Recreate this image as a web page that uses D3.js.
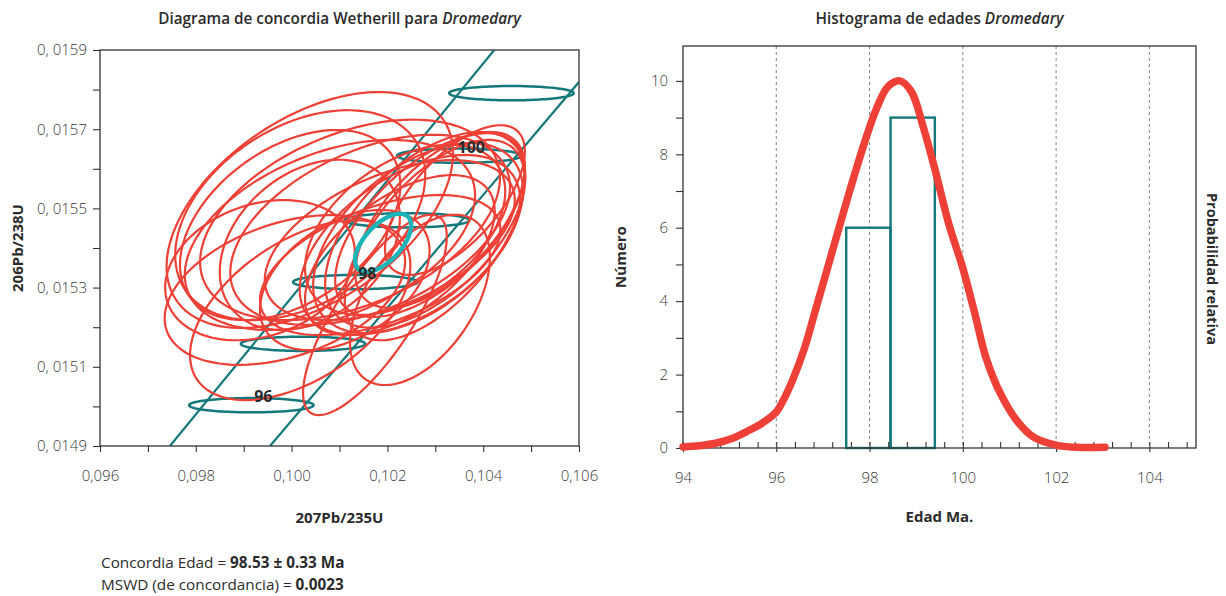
<!DOCTYPE html>
<html>
<head>
<meta charset="utf-8">
<script src="https://cdn.jsdelivr.net/npm/d3@7"></script>
<style>
  body { margin: 0; background: #fff; font-family: "Open Sans", sans-serif; }
</style>
</head>
<body>
<div id="chart"></div>
<script>
// ---- concordia (left) ----
const xMajorL = [0.096, 0.098, 0.100, 0.102, 0.104, 0.106];
const xLabelsL = ['0,096', '0,098', '0,100', '0,102', '0,104', '0,106'];
const xMinorL = [0.097, 0.099, 0.101, 0.103, 0.105];
const yMajorL = [0.0149, 0.0151, 0.0153, 0.0155, 0.0157, 0.0159];
const yLabelsL = ['0, 0149', '0, 0151', '0, 0153', '0, 0155', '0, 0157', '0, 0159'];
const yMinorL = [0.0150, 0.0152, 0.0154, 0.0156, 0.0158];

// concordia age markers (Ma) and their positions
const markerAges = [96, 97, 98, 99, 100, 101];
const markerX = [0.09916, 0.10024, 0.10133, 0.10241, 0.10350, 0.10459];
const markerY = [0.015003, 0.015158, 0.015314, 0.015470, 0.015633, 0.015791];
const markerErrX = 0.0013;
const markerErrY = 0.000018;
const labelledAges = [96, 98, 100];

// decay-constant error band of the concordia
const bandLeft = [[0.09746, 0.0149], [0.10423, 0.0159]];
const bandRight = [[0.09955, 0.0149], [0.10600, 0.015819]];

// analyses: centre, half widths and correlation
const spotX = [0.10279, 0.10264, 0.10289, 0.10247, 0.10299, 0.10237, 0.10310, 0.10226,
  0.10205, 0.10164, 0.10122, 0.10080, 0.10038, 0.10018, 0.09997, 0.10038,
  0.10018, 0.10174, 0.10268, 0.10111, 0.10185, 0.09934, 0.09986, 0.10341];
const spotY = [0.015446, 0.015425, 0.015458, 0.015408, 0.015420, 0.015446, 0.015471, 0.015382,
  0.015420, 0.015446, 0.015471, 0.015433, 0.015496, 0.015483, 0.015458, 0.015408,
  0.015243, 0.015231, 0.015269, 0.015319, 0.015357, 0.015344, 0.015294, 0.015521];
const spotErrX = [0.00209, 0.00219, 0.00198, 0.00230, 0.00188, 0.00209, 0.00177, 0.00198,
  0.00261, 0.00292, 0.00313, 0.00303, 0.00299, 0.00261, 0.00230, 0.00188,
  0.00230, 0.00150, 0.00146, 0.00177, 0.00251, 0.00198, 0.00251, 0.00146];
const spotErrY = [0.000247, 0.000240, 0.000232, 0.000227, 0.000253, 0.000215, 0.000222, 0.000202,
  0.000202, 0.000240, 0.000253, 0.000240, 0.000298, 0.000265, 0.000240, 0.000215,
  0.000227, 0.000253, 0.000215, 0.000177, 0.000177, 0.000177, 0.000189, 0.000189];
const spotRho = [0.55, 0.5, 0.6, 0.5, 0.6, 0.45, 0.6, 0.55,
  0.5, 0.45, 0.42, 0.42, 0.48, 0.38, 0.42, 0.32,
  0.5, 0.78, 0.5, 0.42, 0.5, 0.25, 0.38, 0.65];

// concordia age ellipse
const ageX = 0.10191, ageY = 0.015413, ageErrX = 0.000585, ageErrY = 0.0000735, ageRho = 0.6;

// ---- histogram (right) ----
const xMajorR = [94, 96, 98, 100, 102, 104];
const yMajorR = [0, 2, 4, 6, 8, 10];
const yMinorR = [1, 3, 5, 7, 9];
const binEdges = [97.5, 98.45, 99.4];
const binCounts = [6, 9];
const pdfAge = [94.0, 94.35, 94.7, 95.05, 95.4, 95.7, 96.0, 96.15, 96.35, 96.6, 96.85, 97.2, 97.55,
  97.9, 98.15, 98.4, 98.65, 98.9, 99.15, 99.4, 99.7, 100.0, 100.25, 100.5, 100.8, 101.15,
  101.5, 102.0, 102.45, 103.05];
const pdfValue = [0.03, 0.06, 0.13, 0.26, 0.47, 0.68, 0.98, 1.3, 1.85, 2.7, 3.8, 5.35, 6.9,
  8.35, 9.25, 9.85, 10.0, 9.7, 8.75, 7.6, 6.1, 4.9, 3.7, 2.45, 1.5, 0.76,
  0.31, 0.08, 0.02, 0.02];

const red = '#ee4036';
const teal = '#15787b';
const cyan = '#1bb4b7';
const ink = '#2b2b2b';

const W = 1226, H = 596;
const svg = d3.select('#chart').append('svg')
  .attr('width', W).attr('height', H)
  .attr('viewBox', [0, 0, W, H])
  .style('font-family', '"Open Sans", sans-serif');

// ellipse outline from centre, half widths and correlation
function ellipsePath(x, y, cx, cy, ex, ey, rho) {
  const k = Math.sqrt(1 - rho * rho);
  const pts = d3.range(0, 2 * Math.PI, Math.PI / 60).map(t => [
    x(cx + ex * Math.cos(t)),
    y(cy + ey * (rho * Math.cos(t) + k * Math.sin(t)))
  ]);
  return d3.line().curve(d3.curveLinearClosed)(pts);
}

// ================= LEFT: concordia =================
const L = { left: 100, right: 579, top: 50, bottom: 446 };
const xL = d3.scaleLinear().domain([0.096, 0.106]).range([L.left, L.right]);
const yL = d3.scaleLinear().domain([0.0149, 0.0159]).range([L.bottom, L.top]);

svg.append('text')
  .attr('x', (L.left + L.right) / 2).attr('y', 24)
  .attr('text-anchor', 'middle')
  .style('font-size', '15.3px').style('font-weight', 600).attr('fill', ink)
  .text('Diagrama de concordia Wetherill para ')
  .append('tspan').style('font-style', 'italic').text('Dromedary');

svg.append('defs').append('clipPath').attr('id', 'clipL')
  .append('rect').attr('x', L.left).attr('y', L.top)
  .attr('width', L.right - L.left).attr('height', L.bottom - L.top);

const plotL = svg.append('g').attr('clip-path', 'url(#clipL)');

// concordia band
[bandLeft, bandRight].forEach(b => {
  plotL.append('path')
    .attr('d', d3.line().x(d => xL(d[0])).y(d => yL(d[1]))(b))
    .attr('fill', 'none').attr('stroke', teal).attr('stroke-width', 2.2);
});

// age markers
markerAges.forEach((a, i) => {
  plotL.append('path')
    .attr('d', ellipsePath(xL, yL, markerX[i], markerY[i], markerErrX, markerErrY, 0))
    .attr('fill', 'none').attr('stroke', teal).attr('stroke-width', 2.5);
});

// analyses
spotX.forEach((cx, i) => {
  plotL.append('path')
    .attr('d', ellipsePath(xL, yL, cx, spotY[i], spotErrX[i], spotErrY[i], spotRho[i]))
    .attr('fill', 'none').attr('stroke', red).attr('stroke-width', 2.2);
});

// concordia age
plotL.append('path')
  .attr('d', ellipsePath(xL, yL, ageX, ageY, ageErrX, ageErrY, ageRho))
  .attr('fill', 'none').attr('stroke', cyan).attr('stroke-width', 4.4);

// marker labels
markerAges.forEach((a, i) => {
  if (!labelledAges.includes(a)) return;
  plotL.append('text')
    .attr('x', xL(markerX[i]) + 12).attr('y', yL(markerY[i]) - 3)
    .attr('text-anchor', 'middle')
    .style('font-size', '16px').style('font-weight', 700).attr('fill', ink)
    .text(a);
});

// frame
svg.append('rect')
  .attr('x', L.left).attr('y', L.top)
  .attr('width', L.right - L.left).attr('height', L.bottom - L.top)
  .attr('fill', 'none').attr('stroke', '#333').attr('stroke-width', 1.3);

// axes
function styleAxis(g) {
  g.select('.domain').remove();
  g.selectAll('.tick line').attr('stroke', '#333').attr('stroke-width', 1.1);
  g.selectAll('.tick text').attr('fill', '#3a3a3a')
    .style('font-size', '15px').style('font-family', '"Open Sans", sans-serif').style('font-weight', 300);
}
svg.append('g').attr('transform', `translate(0,${L.bottom})`)
  .call(d3.axisBottom(xL).tickValues(xMajorL).tickSize(6).tickPadding(18)
    .tickFormat((d, i) => xLabelsL[i]))
  .call(styleAxis);
svg.append('g').attr('transform', `translate(0,${L.bottom})`)
  .call(d3.axisBottom(xL).tickValues(xMinorL).tickSize(6).tickFormat(''))
  .call(styleAxis);
svg.append('g').attr('transform', `translate(${L.left},0)`)
  .call(d3.axisLeft(yL).tickValues(yMajorL).tickSize(7).tickPadding(6)
    .tickFormat((d, i) => yLabelsL[i]))
  .call(styleAxis);
svg.append('g').attr('transform', `translate(${L.left},0)`)
  .call(d3.axisLeft(yL).tickValues(yMinorL).tickSize(7).tickFormat(''))
  .call(styleAxis);

svg.append('text')
  .attr('x', (L.left + L.right) / 2).attr('y', 523)
  .attr('text-anchor', 'middle')
  .style('font-size', '15px').style('font-weight', 700).attr('fill', ink)
  .text('207Pb/235U');
svg.append('text')
  .attr('transform', `translate(23,${(L.top + L.bottom) / 2}) rotate(-90)`)
  .attr('text-anchor', 'middle')
  .style('font-size', '15px').style('font-weight', 700).attr('fill', ink)
  .text('206Pb/238U');

// summary lines
const sumG = svg.append('g').style('font-size', '15.3px').attr('fill', ink);
const s1 = sumG.append('text').attr('x', 101).attr('y', 568);
s1.append('tspan').text('Concordia Edad = ');
s1.append('tspan').style('font-weight', 700).text('98.53 ± 0.33 Ma');
const s2 = sumG.append('text').attr('x', 101).attr('y', 590);
s2.append('tspan').text('MSWD (de concordancia) = ');
s2.append('tspan').style('font-weight', 700).text('0.0023');

// ================= RIGHT: histogram =================
const R = { left: 683, right: 1196, top: 46, bottom: 448 };
const xR = d3.scaleLinear().domain([94, 105]).range([R.left, R.right]);
const yR = d3.scaleLinear().domain([0, 10.95]).range([R.bottom, R.top]);

svg.append('text')
  .attr('x', (R.left + R.right) / 2).attr('y', 24)
  .attr('text-anchor', 'middle')
  .style('font-size', '15.3px').style('font-weight', 600).attr('fill', ink)
  .text('Histograma de edades ')
  .append('tspan').style('font-style', 'italic').text('Dromedary');

// dashed grid
svg.append('g').selectAll('line')
  .data(xMajorR.slice(1))
  .join('line')
  .attr('x1', d => xR(d)).attr('x2', d => xR(d))
  .attr('y1', R.top).attr('y2', R.bottom)
  .attr('stroke', '#777').attr('stroke-width', 0.9).attr('stroke-dasharray', '3,3');

// bars
svg.append('g').selectAll('rect')
  .data(binCounts)
  .join('rect')
  .attr('x', (d, i) => xR(binEdges[i]))
  .attr('width', (d, i) => xR(binEdges[i + 1]) - xR(binEdges[i]))
  .attr('y', d => yR(d))
  .attr('height', d => yR(0) - yR(d))
  .attr('fill', 'none').attr('stroke', teal).attr('stroke-width', 2.4);

// frame
svg.append('rect')
  .attr('x', R.left).attr('y', R.top)
  .attr('width', R.right - R.left).attr('height', R.bottom - R.top)
  .attr('fill', 'none').attr('stroke', '#333').attr('stroke-width', 1.3);

// axes
svg.append('g').attr('transform', `translate(0,${R.bottom})`)
  .call(d3.axisBottom(xR).tickValues(d3.range(94, 105, 0.4)).tickSize(-6).tickFormat(''))
  .call(styleAxis);
svg.append('g').attr('transform', `translate(0,${R.bottom})`)
  .call(d3.axisBottom(xR).tickValues(xMajorR).tickSize(4).tickPadding(20))
  .call(styleAxis);
svg.append('g').attr('transform', `translate(${R.left},0)`)
  .call(d3.axisLeft(yR).tickValues(yMajorR).tickSize(7).tickPadding(8))
  .call(styleAxis);
svg.append('g').attr('transform', `translate(${R.left},0)`)
  .call(d3.axisLeft(yR).tickValues(yMinorR).tickSize(7).tickFormat(''))
  .call(styleAxis);

// probability curve
svg.append('path')
  .datum(pdfAge.map((a, i) => [a, pdfValue[i]]))
  .attr('d', d3.line().curve(d3.curveCatmullRom.alpha(0.5)).x(d => xR(d[0])).y(d => yR(d[1])))
  .attr('fill', 'none').attr('stroke', red).attr('stroke-width', 7.5)
  .attr('stroke-linecap', 'round').attr('stroke-linejoin', 'round');

svg.append('text')
  .attr('x', (R.left + R.right) / 2).attr('y', 522)
  .attr('text-anchor', 'middle')
  .style('font-size', '15px').style('font-weight', 700).attr('fill', ink)
  .text('Edad Ma.');
svg.append('text')
  .attr('transform', `translate(626,${(R.top + R.bottom) / 2 + 10}) rotate(-90)`)
  .attr('text-anchor', 'middle')
  .style('font-size', '15px').style('font-weight', 700).attr('fill', ink)
  .text('Número');
svg.append('text')
  .attr('transform', `translate(1207,${(R.top + R.bottom) / 2 + 22}) rotate(90)`)
  .attr('text-anchor', 'middle')
  .style('font-size', '14.5px').style('font-weight', 700).attr('fill', ink)
  .text('Probabilidad relativa');
</script>
</body>
</html>
